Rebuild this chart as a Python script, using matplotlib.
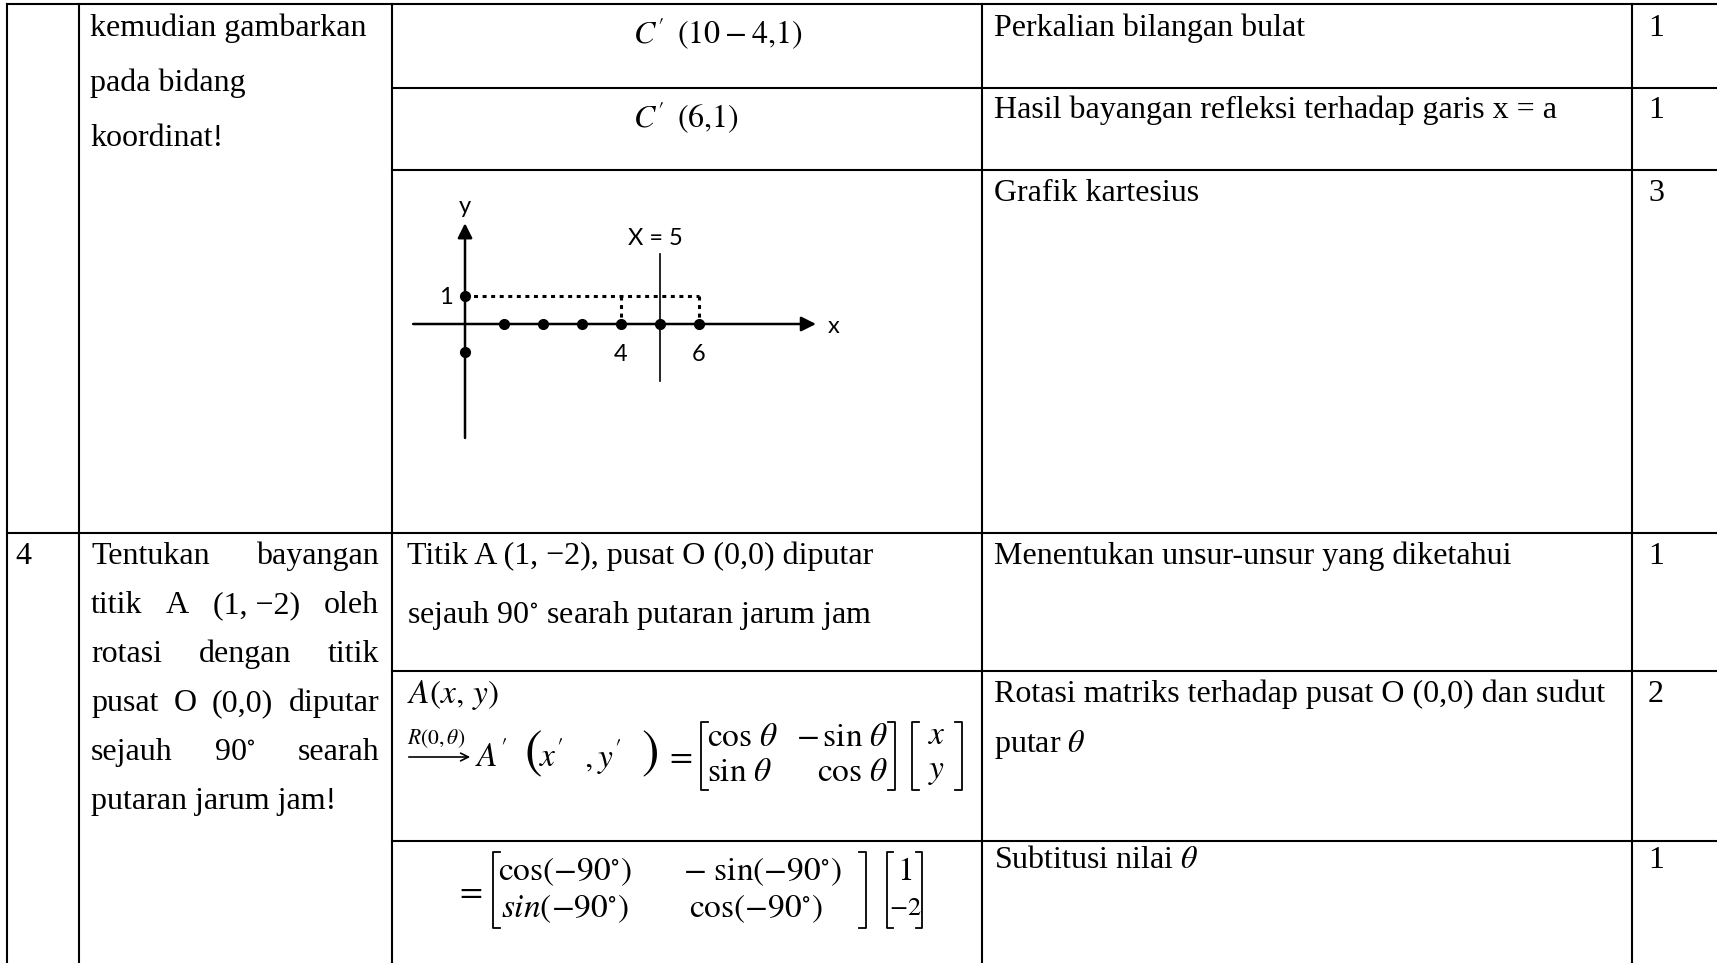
import matplotlib
matplotlib.use("Agg")
import matplotlib.pyplot as plt

plt.rcParams['mathtext.fontset'] = 'stix'
SERIF = 'Liberation Serif'
SANS = 'Lato'

# --- data for the small cartesian sketch (reflection of C(4,1) over x = 5) ---
axis_points_x = [1, 2, 3, 4, 5, 6]
axis_points_y = [1, -1]
mirror_x = 5
c_src = (4, 1)
c_img = (6, 1)
x_labels = [4, 6]
y_labels = [1]

# --- table text ---
q3_lines = ["kemudian gambarkan", "pada bidang", "koordinat!"]
q4_words = [["Tentukan", "bayangan"],
            ["titik", "A", "(1, \u22122)", "oleh"],
            ["rotasi", "dengan", "titik"],
            ["pusat", "O", "(0,0)", "diputar"],
            ["sejauh", "90$^{\\circ}$", "searah"]]
q4_last = "putaran jarum jam!"
steps = ["Perkalian bilangan bulat",
         "Hasil bayangan refleksi terhadap garis x = a",
         "Grafik kartesius",
         "Menentukan unsur-unsur yang diketahui",
         "Rotasi matriks terhadap pusat O (0,0) dan sudut",
         "Subtitusi nilai $\\theta$"]
scores = ["1", "1", "3", "1", "2", "1"]

W, H = 1717, 963
fig = plt.figure(figsize=(W / 100, H / 100), dpi=100)
ax = fig.add_axes([0, 0, 1, 1])
ax.set_xlim(0, W)
ax.set_ylim(H, 0)
ax.axis('off')

# table rules
lw = 1.5
for x in [7, 79, 392, 982, 1632]:
    ax.plot([x, x], [4, H], color='k', lw=lw)
for y, x0 in [(4, 7), (88, 392), (170, 392), (533, 7), (671, 392), (841, 392)]:
    ax.plot([x0, W], [y, y], color='k', lw=lw)

fs = 23
def put(x, y, s, size=fs, **kw):
    kw.setdefault('va', 'baseline')
    return ax.text(x, y, s, fontsize=size, family=SERIF, **kw)

# column 2
for i, s in enumerate(q3_lines):
    put(90, 36 + i * 55, s)

fig.canvas.draw()
rend = fig.canvas.get_renderer()
x0, x1 = 91, 379
for i, words in enumerate(q4_words):
    y = 564 + i * 49
    ts = [put(0, y, w) for w in words]
    ws = [t.get_window_extent(rend).width for t in ts]
    gap = (x1 - x0 - sum(ws)) / (len(words) - 1)
    x = x0
    for t, w in zip(ts, ws):
        t.set_x(x)
        x += w + gap
put(x0, 564 + 5 * 49, q4_last)

put(15, 564, "4")

# column 3
put(633, 44, r"$C^{\prime}\ \,(10-4{,}1)$", size=23)
put(633, 128, r"$C^{\prime}\ \,(6{,}1)$", size=23)
put(407, 564, "Titik A (1, \u22122), pusat O (0,0) diputar")
put(407, 623, "sejauh 90$^{\\circ}$ searah putaran jarum jam")
put(407, 703, r"$A(x,\,y)$", size=24)
put(407, 744, r"$R(0,\theta)$", size=15.5)
ax.annotate('', xy=(473, 757), xytext=(406, 757),
            arrowprops=dict(arrowstyle='->', lw=1.2, color='k', mutation_scale=14))
put(475, 757, r"$A^{\prime}$", size=24, va='center')
ax.text(524, 753, r"$($", fontsize=38, va='center')
put(539, 757, r"$x^{\prime}$", size=24, va='center')
put(584, 757, r"$,y^{\prime}$", size=24, va='center')
ax.text(641, 753, r"$)$", fontsize=38, va='center')
put(665, 757, r"$=$", size=24, va='center')

def bracket(xl, xr, yt, yb, arm=7):
    ax.plot([xl + arm, xl, xl, xl + arm], [yt, yt, yb, yb], color='k', lw=1.3)
    ax.plot([xr - arm, xr, xr, xr - arm], [yt, yt, yb, yb], color='k', lw=1.3)

mfs = 24
bracket(701, 895, 722, 790)
put(707, 738, r"$\cos\,\theta$", size=mfs, va='center')
put(707, 773, r"$\sin\,\theta$", size=mfs, va='center')
put(888, 738, r"$-\,\sin\,\theta$", size=mfs, va='center', ha='right')
put(888, 773, r"$\cos\,\theta$", size=mfs, va='center', ha='right')
bracket(912, 962, 722, 790)
put(937, 736, r"$x$", size=mfs, va='center', ha='center')
put(937, 772, r"$y$", size=mfs, va='center', ha='center')

put(469, 892, r"$=$", size=mfs, va='center', ha='center')
bracket(493, 866, 852, 928)
put(565, 872, r"$\cos(-90^{\circ})$", size=mfs, va='center', ha='center')
put(565, 909, r"$sin(-90^{\circ})$", size=mfs, va='center', ha='center')
put(762, 872, r"$-\ \sin(-90^{\circ})$", size=mfs, va='center', ha='center')
put(756, 909, r"$\cos(-90^{\circ})$", size=mfs, va='center', ha='center')
bracket(887, 922, 852, 928, arm=6)
put(905, 872, r"$1$", size=mfs, va='center', ha='center')
put(905, 909, r"$-2$", size=19, va='center', ha='center')

# column 4 / 5
step_y = [36, 118, 201, 564, 702, 868]
for s, n, y in zip(steps, scores, step_y):
    put(994, y, s)
    put(1648, y, n)
put(994, 752, "putar $\\theta$")

# cartesian sketch
cx = fig.add_axes([400 / W, 1 - 450 / H, 450 / W, 255 / H])
cx.set_xlim(-1.667, 9.872)
cx.set_ylim(-4.5, 4.607)
cx.axis('off')
arrow = dict(arrowstyle='-|>', lw=1.8, color='k', mutation_scale=22, shrinkA=0, shrinkB=0)
cx.annotate('', xy=(9.0, 0), xytext=(-1.33, 0), arrowprops=arrow)
cx.annotate('', xy=(0, 3.6), xytext=(0, -4.07), arrowprops=arrow)
cx.plot([mirror_x, mirror_x], [-2.05, 2.5], color='k', lw=1.2)
dot = dict(color='k', lw=2.2, dashes=(1.3, 1.5), solid_capstyle='butt', dash_capstyle='butt')
cx.plot([0, c_img[0]], [c_src[1], c_img[1]], **dot)
cx.plot([c_src[0], c_src[0]], [c_src[1], 0], **dot)
cx.plot([c_img[0], c_img[0]], [c_img[1], 0], **dot)
cx.plot(axis_points_x, [0] * len(axis_points_x), 'o', color='k', ms=7)
cx.plot([0] * len(axis_points_y), axis_points_y, 'o', color='k', ms=7)
for v in x_labels:
    cx.text(v, -1.1, str(v), ha='center', va='center', fontsize=17, family=SANS)
for v in y_labels:
    cx.text(-0.5, v - 0.05, str(v), ha='center', va='center', fontsize=17, family=SANS)
cx.text(mirror_x - 0.13, 3.05, "X = %d" % mirror_x, ha='center', va='center', fontsize=17, family=SANS)
cx.text(9.45, -0.08, "x", ha='center', va='center', fontsize=17, family=SANS)
cx.text(0, 4.2, "y", ha='center', va='center', fontsize=17, family=SANS)

fig.savefig("out.png", dpi=100)
